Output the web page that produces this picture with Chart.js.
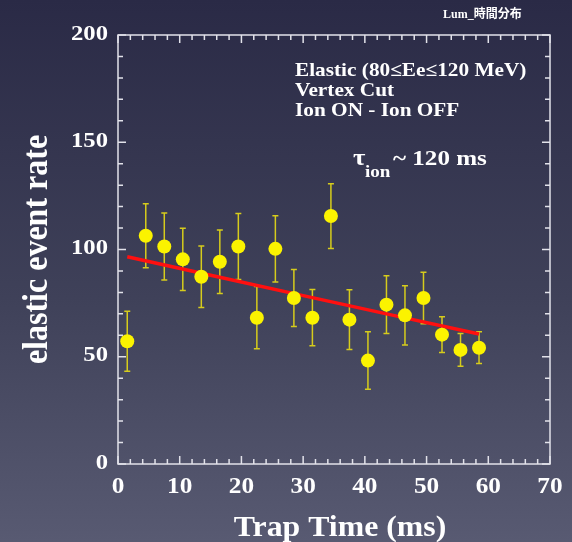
<!DOCTYPE html>
<html>
<head>
<meta charset="utf-8">
<script src="https://cdn.jsdelivr.net/npm/chart.js@4.4.1/dist/chart.umd.min.js"></script>
<style>
html, body { margin: 0; padding: 0; }
body {
    width: 572px; height: 542px; overflow: hidden;
    background: linear-gradient(to bottom, #2a2a46 0%, #3f4159 55%, #585a72 100%);
}
#wrap { position: relative; width: 572px; height: 542px; }
</style>
</head>
<body>
<div id="wrap"><canvas id="chart" width="572" height="542"></canvas></div>
<script>
// data
var trapTime = [1.5, 4.5, 7.5, 10.5, 13.5, 16.5, 19.5, 22.5, 25.5, 28.5, 31.5, 34.5, 37.5, 40.5, 43.5, 46.5, 49.5, 52.5, 55.5, 58.5];
var eventRate = [57.2, 106.4, 101.4, 95.4, 87.3, 94.3, 101.4, 68.2, 100.3, 77.4, 68.2, 115.6, 67.3, 48.2, 74.3, 69.3, 77.4, 60.3, 53.2, 54.2];
var rateError = [14, 14.9, 15.6, 14.5, 14.3, 14.8, 15.4, 14.5, 15.4, 13.3, 13.1, 15.1, 13.9, 13.4, 13.5, 13.8, 12, 8.3, 7.6, 7.4];
var fitTime = [1.5, 30, 58.5];
var fitRate = [96.6, 78.5, 60.6];
var xTickLabels = [0, 10, 20, 30, 40, 50, 60, 70];
var yTickLabels = [0, 50, 100, 150, 200];

var SERIF = '"Liberation Serif", "Times New Roman", serif';

function stretchText(ctx, str, x, y, font, sx, align, baseline) {
    ctx.save();
    ctx.translate(x, y);
    ctx.scale(sx, 1);
    ctx.font = font;
    ctx.textAlign = align || 'left';
    ctx.textBaseline = baseline || 'alphabetic';
    ctx.fillText(str, 0, 0);
    ctx.restore();
}

var errorBars = {
    id: 'errorBars',
    beforeDatasetsDraw: function (chart) {
        var ctx = chart.ctx;
        var xs = chart.scales.x, ys = chart.scales.y;
        ctx.save();
        ctx.strokeStyle = '#d6cc1c';
        ctx.lineWidth = 1.5;
        for (var i = 0; i < trapTime.length; i++) {
            var px = xs.getPixelForValue(trapTime[i]);
            var top = ys.getPixelForValue(eventRate[i] + rateError[i]);
            var bot = ys.getPixelForValue(eventRate[i] - rateError[i]);
            ctx.beginPath();
            ctx.moveTo(px, top); ctx.lineTo(px, bot);
            ctx.moveTo(px - 3, top); ctx.lineTo(px + 3, top);
            ctx.moveTo(px - 3, bot); ctx.lineTo(px + 3, bot);
            ctx.stroke();
        }
        ctx.restore();
    }
};

var frameAndText = {
    id: 'frameAndText',
    beforeDatasetsDraw: function (chart) {
        var ctx = chart.ctx, a = chart.chartArea;
        var xs = chart.scales.x, ys = chart.scales.y;
        ctx.save();
        ctx.strokeStyle = '#e2e2ea';
        ctx.lineWidth = 1.5;
        ctx.strokeRect(a.left, a.top, a.right - a.left, a.bottom - a.top);
        ctx.beginPath();
        var v, p, len;
        for (v = 0; v <= 70; v += 2) {
            p = xs.getPixelForValue(v);
            len = (v % 10 === 0) ? 8 : 5;
            ctx.moveTo(p, a.bottom); ctx.lineTo(p, a.bottom - len);
            ctx.moveTo(p, a.top); ctx.lineTo(p, a.top + len);
        }
        for (v = 0; v <= 200; v += 10) {
            p = ys.getPixelForValue(v);
            len = (v % 50 === 0) ? 8 : 5;
            ctx.moveTo(a.left, p); ctx.lineTo(a.left + len, p);
            ctx.moveTo(a.right, p); ctx.lineTo(a.right - len, p);
        }
        ctx.stroke();
        ctx.restore();
    },
    afterDraw: function (chart) {
        var ctx = chart.ctx, a = chart.chartArea;
        var xs = chart.scales.x, ys = chart.scales.y;
        ctx.save();
        ctx.fillStyle = '#ffffff';
        var tickFont = 'bold 22px ' + SERIF;
        xTickLabels.forEach(function (t) {
            stretchText(ctx, String(t), xs.getPixelForValue(t), a.bottom + 12, 'bold 23px ' + SERIF, 1.1, 'center', 'top');
        });
        yTickLabels.forEach(function (t) {
            stretchText(ctx, String(t), a.left - 10, ys.getPixelForValue(t) - 1, tickFont, 1.12, 'right', 'middle');
        });
        // axis titles
        stretchText(ctx, 'Trap Time (ms)', (a.left + a.right) / 2 + 6, 536, 'bold 30px ' + SERIF, 1.06, 'center', 'alphabetic');
        ctx.save();
        ctx.translate(47, (a.top + a.bottom) / 2);
        ctx.scale(1.15, 1);
        ctx.rotate(-Math.PI / 2);
        ctx.font = 'bold 32px ' + SERIF;
        ctx.textAlign = 'center';
        ctx.textBaseline = 'alphabetic';
        ctx.fillText('elastic event rate', 0, 0);
        ctx.restore();
        // annotations
        var noteFont = 'bold 19px ' + SERIF;
        stretchText(ctx, 'Elastic (80\u2264Ee\u2264120 MeV)', 295, 76, noteFont, 1.12);
        stretchText(ctx, 'Vertex Cut', 295, 96, noteFont, 1.12);
        stretchText(ctx, 'Ion ON - Ion OFF', 295, 116, noteFont, 1.12);
        stretchText(ctx, '\u03c4', 353, 165, 'bold 24px ' + SERIF, 1.12);
        stretchText(ctx, 'ion', 365, 177, 'bold 17px ' + SERIF, 1.12);
        stretchText(ctx, '~ 120 ms', 393, 165, 'bold 22px ' + SERIF, 1.14);
        stretchText(ctx, 'Lum_\u6642\u9593\u5206\u5e03', 443, 18, 'bold 12px ' + SERIF + ', "Noto Sans CJK JP"', 1.0);
        ctx.restore();
    }
};

var ctx = document.getElementById('chart').getContext('2d');
new Chart(ctx, {
    type: 'scatter',
    data: {
        datasets: [
            {
                label: 'data',
                data: trapTime.map(function (t, i) { return { x: t, y: eventRate[i] }; }),
                backgroundColor: '#fbf300',
                borderWidth: 0,
                pointRadius: 7,
                pointHoverRadius: 7
            },
            {
                type: 'line',
                label: 'fit',
                data: fitTime.map(function (t, i) { return { x: t, y: fitRate[i] }; }),
                borderColor: '#ff1010',
                borderWidth: 3.5,
                pointRadius: 0,
                fill: false,
                tension: 0.4
            }
        ]
    },
    options: {
        responsive: false,
        animation: false,
        layout: { padding: { top: 35, right: 22, left: 0, bottom: 0 } },
        plugins: { legend: { display: false }, tooltip: { enabled: false } },
        scales: {
            x: {
                type: 'linear', min: 0, max: 70,
                ticks: { display: false, stepSize: 10 },
                grid: { display: false },
                border: { display: false },
                afterFit: function (scale) { scale.height = 78; }
            },
            y: {
                type: 'linear', min: 0, max: 200,
                ticks: { display: false, stepSize: 50 },
                grid: { display: false },
                border: { display: false },
                afterFit: function (scale) { scale.width = 118; }
            }
        }
    },
    plugins: [errorBars, frameAndText]
});
</script>
</body>
</html>
